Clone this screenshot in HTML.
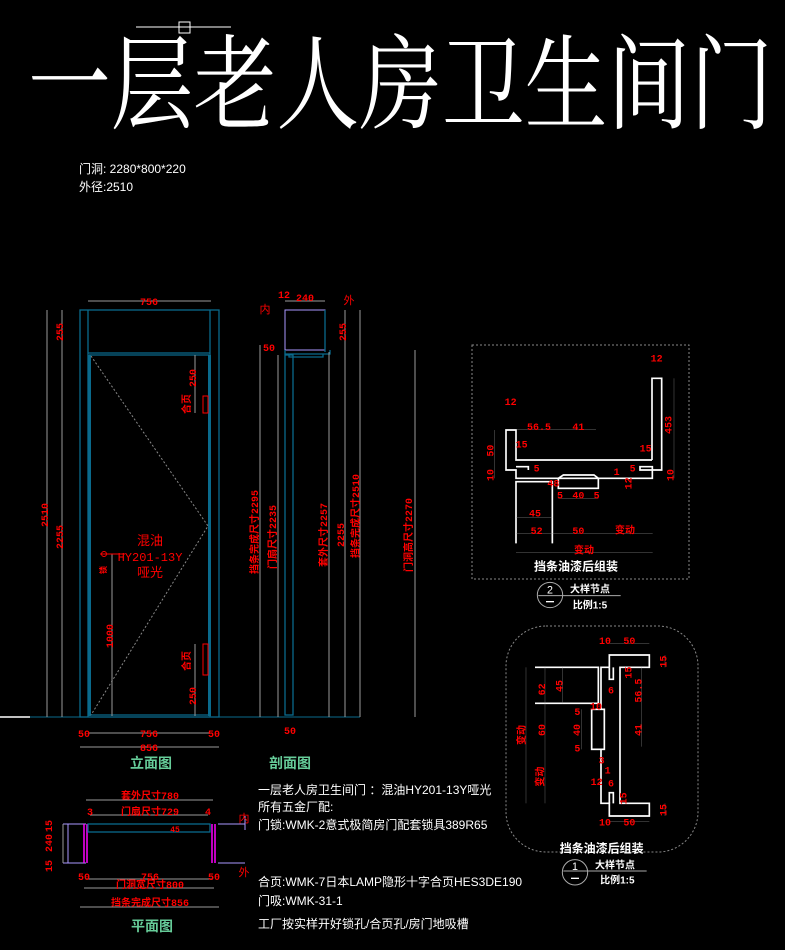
<!DOCTYPE html>
<html><head><meta charset="utf-8"><style>
html,body{margin:0;padding:0;background:#000;width:785px;height:950px;overflow:hidden}
svg{display:block}
.t{font-family:"Liberation Sans","Noto Sans CJK SC",sans-serif}
.r{fill:#f00;font-family:"Liberation Mono","Noto Sans CJK SC",monospace;font-weight:bold}
.g{stroke:#9a9a9a;stroke-width:1;fill:none}
.b{stroke:#0a6a8c;stroke-width:1.3;fill:none}
.w{stroke:#fff;fill:none}
</style></head><body>
<svg width="785" height="950" viewBox="0 0 785 950" xmlns="http://www.w3.org/2000/svg">
<!-- title -->
<line x1="136" y1="27" x2="231" y2="27" stroke="#fff" stroke-width="1"/>
<rect x="179" y="22" width="11" height="11" fill="none" stroke="#fff"/>
<text x="28" y="120" fill="#fff" font-family="'Noto Serif CJK SC','Liberation Serif',serif" font-size="92" letter-spacing="0" textLength="745" lengthAdjust="spacingAndGlyphs" transform="translate(0,-14) scale(1,1.12)">一层老人房卫生间门</text>
<text x="79" y="173" fill="#fff" class="t" font-size="12">门洞: 2280*800*220</text>
<text x="79" y="191" fill="#fff" class="t" font-size="12">外径:2510</text>

<!-- ELEVATION -->
<line x1="0" y1="717" x2="30" y2="717" stroke="#fff" stroke-width="1.5"/>
<line x1="30" y1="717" x2="360" y2="717" stroke="#0a6a8c" stroke-width="1"/>
<rect x="80" y="310" width="139" height="407" class="b"/>
<line x1="88" y1="310" x2="88" y2="717" class="b"/>
<line x1="210" y1="310" x2="210" y2="717" class="b"/>
<line x1="88" y1="353" x2="210" y2="353" class="b"/>
<line x1="89" y1="355" x2="209" y2="355" class="b"/>
<rect x="88" y="355" width="3" height="361" fill="#0a6a8c"/>
<rect x="208" y="355" width="3" height="361" fill="#0a6a8c"/>
<line x1="89" y1="715" x2="209" y2="715" class="b"/>
<polyline points="91,356 208,526 91,715" fill="none" stroke="#888" stroke-dasharray="2,2"/>
<rect x="203" y="396" width="5" height="17" fill="none" stroke="#f00"/>
<rect x="203" y="644" width="5" height="31" fill="none" stroke="#f00"/>
<!-- dims -->
<line x1="47" y1="310" x2="47" y2="717" class="g"/>
<line x1="62" y1="310" x2="62" y2="717" class="g"/>
<line x1="88" y1="301" x2="211" y2="301" class="g"/>
<line x1="88" y1="733" x2="210" y2="733" class="g"/>
<line x1="80" y1="747" x2="219" y2="747" class="g"/>
<line x1="195" y1="355" x2="195" y2="413" class="g"/>
<line x1="195" y1="644" x2="195" y2="716" class="g"/>
<line x1="112" y1="554" x2="112" y2="716" class="g"/>
<line x1="100" y1="554" x2="125" y2="554" stroke="#f00"/>
<circle cx="104" cy="554" r="2.5" fill="none" stroke="#f00"/>
<g class="r" font-size="10">
<text x="149" y="305" text-anchor="middle">756</text>
<text x="84" y="737" text-anchor="middle">50</text>
<text x="149" y="737" text-anchor="middle">756</text>
<text x="214" y="737" text-anchor="middle">50</text>
<text x="149" y="751" text-anchor="middle">856</text>
<text transform="translate(48,515) rotate(-90)" text-anchor="middle">2510</text>
<text transform="translate(63,332) rotate(-90)" text-anchor="middle">255</text>
<text transform="translate(63,537) rotate(-90)" text-anchor="middle">2255</text>
<text transform="translate(196,378) rotate(-90)" text-anchor="middle">250</text>
<text transform="translate(196,696) rotate(-90)" text-anchor="middle">250</text>
<text transform="translate(113,636) rotate(-90)" text-anchor="middle">1000</text>
<text transform="translate(190,404) rotate(-90)" text-anchor="middle">合页</text>
<text transform="translate(190,661) rotate(-90)" text-anchor="middle">合页</text>
<text transform="translate(106,570) rotate(-90)" text-anchor="middle" font-size="8">锁</text>
</g>
<g fill="#f00" class="t" font-size="13" text-anchor="middle">
<text x="150" y="545">混油</text>
<text x="150" y="561" font-family="Liberation Mono,monospace" font-size="12">HY201-13Y</text>
<text x="150" y="577">哑光</text>
</g>
<text x="151" y="768" fill="#6c9" font-weight="bold" class="t" font-size="14" text-anchor="middle">立面图</text>

<!-- SECTION -->
<rect x="285" y="310" width="40" height="40" fill="none" stroke="#a9f"/>
<line x1="325" y1="310" x2="325" y2="352" class="b"/>
<polyline points="285,350 285,354 330,354 330,350" class="b"/>
<polyline points="289,354 289,357 323,357 323,354" class="b"/>
<rect x="285" y="355" width="8" height="360" class="b"/>
<g class="g">
<line x1="260" y1="345" x2="260" y2="717"/>
<line x1="278" y1="355" x2="278" y2="717"/>
<line x1="329" y1="352" x2="329" y2="717"/>
<line x1="345" y1="310" x2="345" y2="717"/>
<line x1="360" y1="310" x2="360" y2="717"/>
<line x1="415" y1="350" x2="415" y2="717"/>
<line x1="285" y1="301" x2="325" y2="301"/>
</g>
<g class="r" font-size="10">
<text x="305" y="301" text-anchor="middle">240</text>
<text x="284" y="298" text-anchor="middle">12</text>
<text x="269" y="351" text-anchor="middle">50</text>
<text x="290" y="734" text-anchor="middle">50</text>
<text transform="translate(346,332) rotate(-90)" text-anchor="middle">255</text>
<text transform="translate(344,535) rotate(-90)" text-anchor="middle">2255</text>
<text transform="translate(258,532) rotate(-90)" text-anchor="middle">挡条完成尺寸2295</text>
<text transform="translate(276,537) rotate(-90)" text-anchor="middle">门扇尺寸2235</text>
<text transform="translate(327,535) rotate(-90)" text-anchor="middle">套外尺寸2257</text>
<text transform="translate(359,516) rotate(-90)" text-anchor="middle">挡条完成尺寸2510</text>
<text transform="translate(412,535) rotate(-90)" text-anchor="middle">门洞高尺寸2270</text>
</g>
<text x="265" y="313" fill="#f00" class="t" font-size="11" text-anchor="middle">内</text>
<text x="349" y="304" fill="#f00" class="t" font-size="11" text-anchor="middle">外</text>
<text x="290" y="768" fill="#6c9" font-weight="bold" class="t" font-size="14" text-anchor="middle">剖面图</text>

<!-- PLAN -->
<line x1="63" y1="824" x2="86" y2="824" stroke="#a9f"/>
<line x1="63" y1="863" x2="86" y2="863" stroke="#a9f"/>
<line x1="68" y1="824" x2="68" y2="863" stroke="#a9f"/>
<line x1="84" y1="824" x2="84" y2="863" stroke="#f0f" stroke-width="1.5"/>
<line x1="87" y1="824" x2="87" y2="863" stroke="#f0f" stroke-width="1.5"/>
<line x1="212" y1="824" x2="212" y2="863" stroke="#f0f" stroke-width="1.5"/>
<line x1="215" y1="824" x2="215" y2="863" stroke="#f0f" stroke-width="1.5"/>
<rect x="88" y="824" width="122" height="8" class="b"/>
<line x1="218" y1="824" x2="245" y2="824" stroke="#a9f"/>
<line x1="218" y1="863" x2="245" y2="863" stroke="#a9f"/>
<line x1="245" y1="816" x2="245" y2="830" stroke="#a9f"/>
<g class="g">
<line x1="86" y1="800" x2="213" y2="800"/>
<line x1="90" y1="815" x2="208" y2="815"/>
<line x1="86" y1="879" x2="213" y2="879"/>
<line x1="84" y1="888" x2="214" y2="888"/>
<line x1="80" y1="907" x2="219" y2="907"/>
<line x1="63" y1="824" x2="63" y2="863"/>
</g>
<g class="r" font-size="10">
<text x="150" y="799" text-anchor="middle">套外尺寸780</text>
<text x="150" y="815" text-anchor="middle">门扇尺寸729</text>
<text x="90" y="815" text-anchor="middle">3</text>
<text x="208" y="815" text-anchor="middle">4</text>
<text x="175" y="832" text-anchor="middle" font-size="8">45</text>
<text x="84" y="880" text-anchor="middle">50</text>
<text x="150" y="880" text-anchor="middle">756</text>
<text x="214" y="880" text-anchor="middle">50</text>
<text x="150" y="888" text-anchor="middle">门洞宽尺寸800</text>
<text x="150" y="906" text-anchor="middle">挡条完成尺寸856</text>
<text transform="translate(52,826) rotate(-90)" text-anchor="middle">15</text>
<text transform="translate(52,843) rotate(-90)" text-anchor="middle">240</text>
<text transform="translate(52,866) rotate(-90)" text-anchor="middle">15</text>
</g>
<text x="244" y="822" fill="#f00" class="t" font-size="11" text-anchor="middle">内</text>
<text x="244" y="876" fill="#f00" class="t" font-size="11" text-anchor="middle">外</text>
<text x="152" y="931" fill="#6c9" font-weight="bold" class="t" font-size="14" text-anchor="middle">平面图</text>

<!-- notes -->
<g fill="#fff" class="t" font-size="12">
<text x="258" y="794">一层老人房卫生间门 ：混油HY201-13Y哑光</text>
<text x="258" y="811">所有五金厂配:</text>
<text x="258" y="829">门锁:WMK-2意式极简房门配套锁具389R65</text>
<text x="258" y="886">合页:WMK-7日本LAMP隐形十字合页HES3DE190</text>
<text x="258" y="905">门吸:WMK-31-1</text>
<text x="258" y="928">工厂按实样开好锁孔/合页孔/房门地吸槽</text>
</g>

<!-- DETAIL 2 -->
<rect x="472" y="345" width="217" height="234" fill="none" stroke="#888" stroke-dasharray="2,2"/>
<g transform="translate(470,340) scale(0.33333)">
<g class="w" stroke-width="5">
<polyline points="546,360 546,115 575,115 575,390 510,390 510,380 547,380 547,415 385,415 372,405 280,405 265,415 138,415 138,390 108,390 108,270 138,270 138,360 546,360"/>
<polyline points="138,380 175,380 175,390"/>
<rect x="265" y="415" width="120" height="30"/>
<polyline points="138,610 138,425 247,425 247,610"/>
</g>
<g class="g" stroke-width="3">
<line x1="138" y1="268" x2="378" y2="268"/>
<line x1="73" y1="270" x2="73" y2="415"/>
<line x1="612" y1="115" x2="612" y2="415"/>
<line x1="138" y1="532" x2="247" y2="532"/>
<line x1="138" y1="580" x2="548" y2="580"/>
<line x1="138" y1="638" x2="548" y2="638"/>
<line x1="265" y1="475" x2="385" y2="475"/>
</g>
<g class="r" font-size="30" text-anchor="middle">
<text x="560" y="65">12</text><text x="122" y="195">12</text>
<text x="207" y="270">56.5</text><text x="325" y="270">41</text>
<text x="155" y="322">15</text><text x="527" y="335">15</text>
<text x="200" y="395">5</text><text x="488" y="395">5</text><text x="440" y="405">1</text>
<text x="270" y="475">5</text><text x="325" y="475">40</text><text x="380" y="475">5</text>
<text x="250" y="440">48</text>
<text x="195" y="530">45</text><text x="200" y="582">52</text><text x="325" y="582">50</text>
<text x="465" y="580">变动</text><text x="342" y="640">变动</text>
<text transform="translate(70,332) rotate(-90)">50</text>
<text transform="translate(70,405) rotate(-90)">10</text>
<text transform="translate(485,430) rotate(-90)">12</text>
<text transform="translate(605,255) rotate(-90)">453</text>
<text transform="translate(610,405) rotate(-90)">10</text>
</g>
<text x="318" y="692" fill="#fff" font-weight="bold" class="t" font-size="36" text-anchor="middle">挡条油漆后组装</text>
<circle cx="240" cy="765" r="38" fill="none" stroke="#aaa" stroke-width="3"/>
<line x1="205" y1="767" x2="452" y2="767" stroke="#aaa" stroke-width="3"/>
<text x="240" y="760" fill="#fff" class="t" font-size="32" text-anchor="middle">2</text>
<line x1="228" y1="785" x2="252" y2="785" stroke="#fff" stroke-width="4"/>
<text x="360" y="758" fill="#fff" font-weight="bold" class="t" font-size="30" text-anchor="middle">大样节点</text>
<text x="360" y="805" fill="#fff" font-weight="bold" class="t" font-size="30" text-anchor="middle">比例1:5</text>
</g>

<!-- DETAIL 1 -->
<rect x="506" y="626" width="192" height="226" rx="40" ry="40" fill="none" stroke="#888" stroke-dasharray="2,2"/>
<g transform="translate(500,620) scale(0.33333)">
<g class="w" stroke-width="5">
<polyline points="328,142 328,105 448,105 448,142 360,142 360,550 448,550 448,588 328,588 328,550 303,550 303,388"/>
<polyline points="328,142 303,142 303,268"/>
<polyline points="328,142 328,178 340,178 340,142"/>
<polyline points="328,550 328,518 340,518 340,550"/>
<rect x="275" y="268" width="38" height="120"/>
<polyline points="105,142 295,142 295,250 105,250"/>
</g>
<g class="g" stroke-width="3">
<line x1="328" y1="70" x2="448" y2="70"/><line x1="328" y1="605" x2="448" y2="605"/>
<line x1="78" y1="142" x2="78" y2="550"/><line x1="135" y1="142" x2="135" y2="550"/>
<line x1="188" y1="142" x2="188" y2="250"/><line x1="245" y1="268" x2="245" y2="388"/>
<line x1="425" y1="142" x2="425" y2="380"/><line x1="495" y1="105" x2="495" y2="142"/>
<line x1="495" y1="550" x2="495" y2="588"/>
</g>
<g class="r" font-size="30" text-anchor="middle">
<text x="315" y="72">10</text><text x="388" y="72">50</text>
<text x="315" y="616">10</text><text x="388" y="616">50</text>
<text x="333" y="220">6</text><text x="333" y="500">6</text>
<text x="232" y="285">5</text><text x="232" y="395">5</text>
<text x="305" y="430">3</text><text x="323" y="460">1</text><text x="290" y="495">12</text>
<text x="288" y="268">10</text>
<text transform="translate(500,125) rotate(-90)">15</text>
<text transform="translate(395,158) rotate(-90)">15</text>
<text transform="translate(425,212) rotate(-90)">56.5</text>
<text transform="translate(425,330) rotate(-90)">41</text>
<text transform="translate(135,208) rotate(-90)">62</text>
<text transform="translate(188,198) rotate(-90)">45</text>
<text transform="translate(240,330) rotate(-90)">40</text>
<text transform="translate(135,330) rotate(-90)">60</text>
<text transform="translate(75,345) rotate(-90)">变动</text>
<text transform="translate(130,470) rotate(-90)">变动</text>
<text transform="translate(380,535) rotate(-90)">15</text>
<text transform="translate(500,570) rotate(-90)">15</text>
</g>
<text x="305" y="698" fill="#fff" font-weight="bold" class="t" font-size="36" text-anchor="middle">挡条油漆后组装</text>
<circle cx="225" cy="757" r="38" fill="none" stroke="#aaa" stroke-width="3"/>
<line x1="190" y1="753" x2="440" y2="753" stroke="#aaa" stroke-width="3"/>
<text x="225" y="750" fill="#fff" class="t" font-size="32" text-anchor="middle">1</text>
<line x1="213" y1="775" x2="237" y2="775" stroke="#fff" stroke-width="4"/>
<text x="345" y="746" fill="#fff" font-weight="bold" class="t" font-size="30" text-anchor="middle">大样节点</text>
<text x="352" y="790" fill="#fff" font-weight="bold" class="t" font-size="30" text-anchor="middle">比例1:5</text>
</g>
</svg>
</body></html>
